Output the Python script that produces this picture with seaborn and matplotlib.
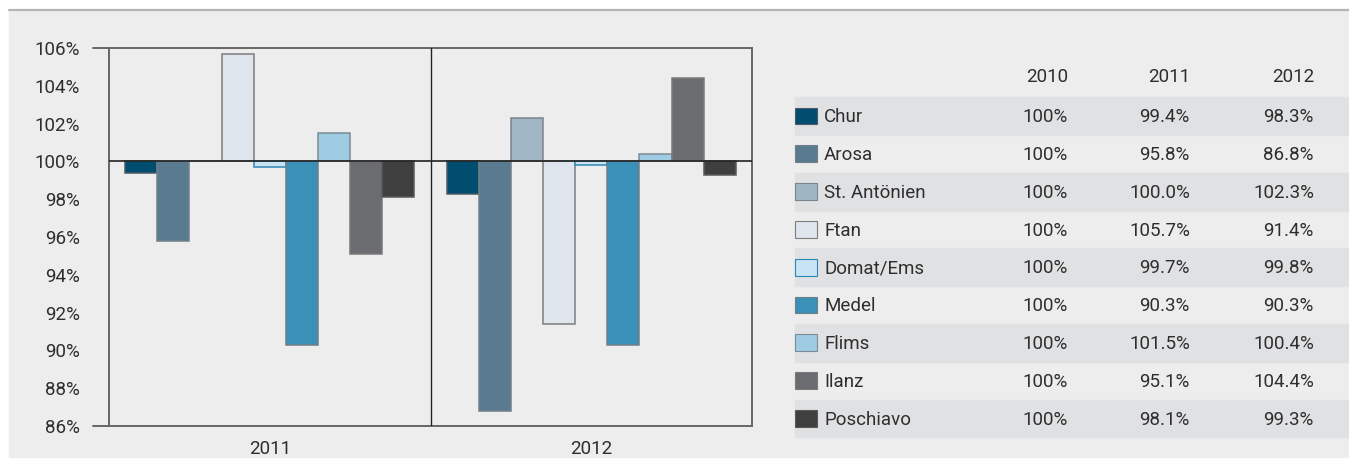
import pandas as pd
import matplotlib
matplotlib.use("Agg")
import matplotlib.pyplot as plt
from matplotlib.patches import Rectangle
from matplotlib.lines import Line2D
from matplotlib.ticker import FuncFormatter
import seaborn as sns

# data
towns = ["Chur", "Arosa", "St. Antönien", "Ftan", "Domat/Ems", "Medel", "Flims", "Ilanz", "Poschiavo"]
years = ["2010", "2011", "2012"]
v2010 = [100, 100, 100, 100, 100, 100, 100, 100, 100]
v2011 = [99.4, 95.8, 100.0, 105.7, 99.7, 90.3, 101.5, 95.1, 98.1]
v2012 = [98.3, 86.8, 102.3, 91.4, 99.8, 90.3, 100.4, 104.4, 99.3]
y_ticks = [86, 88, 90, 92, 94, 96, 98, 100, 102, 104, 106]

colors = ["#004d70", "#5a7b8f", "#a0b6c5", "#dfe5ec", "#c8e4f4", "#3a90b6", "#9fcbe3", "#6b6c70", "#3f3f3f"]
edges = ["#4a5a66", "#6f7f8a", "#7a848c", "#7d7d7d", "#2f86b5", "#6f7f88", "#7d8b94", "#7a7a7a", "#5a5a5a"]

bg = "#ededed"
base = 100

# long table of changes against 2010
rows = []
for t, a, b in zip(towns, v2011, v2012):
    rows.append({"year": "2011", "town": t, "change": a - base})
    rows.append({"year": "2012", "town": t, "change": b - base})
df = pd.DataFrame(rows)

sns.set_style("white")
plt.rcParams["font.family"] = ["Roboto", "DejaVu Sans"]

W, H = 1349, 459
fig = plt.figure(figsize=(W / 100, H / 100), dpi=100)
fig.patch.set_facecolor("white")

# grey panel and top rule
fig.patches.append(Rectangle((9 / W, 1 - 457 / H), 1 - 9 / W, (457 - 11) / H,
                             transform=fig.transFigure, color=bg, zorder=-10))
fig.lines.append(Line2D([9 / W, 1], [1 - 10 / H, 1 - 10 / H], transform=fig.transFigure,
                        color="#b5b5b5", lw=1.6, zorder=-9))

# bar chart
ax = fig.add_axes([109 / W, 1 - 426 / H, (752 - 109) / W, (426 - 48) / H])
ax.set_facecolor(bg)
sns.barplot(data=df, x="year", y="change", hue="town", hue_order=towns,
            palette=colors, saturation=1, width=0.9, linewidth=1.1, legend=False, ax=ax)
for i, p in enumerate(ax.patches):
    p.set_edgecolor(edges[i // 2])

ax.set_ylim(y_ticks[0] - base, y_ticks[-1] - base)
ax.set_xlim(-0.5, 1.5)
ax.set_yticks([v - base for v in y_ticks])
ax.yaxis.set_major_formatter(FuncFormatter(lambda v, _: f"{v + base:.0f}%"))
ax.axhline(0, color="#222222", lw=1.2, zorder=5)
ax.axvline(0.5, color="#222222", lw=1.0, zorder=5)
for s in ax.spines.values():
    s.set_color("#666666")
    s.set_linewidth(1.4)
# top and bottom lines reach out to the labels
tr = ax.get_yaxis_transform()
for yv in (y_ticks[0] - base, y_ticks[-1] - base):
    ax.plot([-16 / 643, 0], [yv, yv], transform=tr, color="#666666", lw=1.4, clip_on=False)
ax.tick_params(axis="both", length=0, labelsize=13.5, colors="#2e2e2e")
ax.tick_params(axis="y", pad=21)
ax.tick_params(axis="x", pad=10)
ax.set_xlabel("")
ax.set_ylabel("")
ax.grid(False)

# table with legend swatches
tx = fig.add_axes([785 / W, 1 - 437.3 / H, (W - 785) / W, (437.3 - 59.3) / H])
tx.set_xlim(785, W)
tx.set_ylim(8.5, -1.5)
tx.axis("off")
col_x = [1068, 1190, 1314]
fs = 13.5
tc = "#2e2e2e"
for x, yr in zip(col_x, years):
    tx.text(x, -1.03, yr, ha="right", va="center", fontsize=fs, color=tc)
for i, t in enumerate(towns):
    if i % 2 == 0:
        tx.add_patch(Rectangle((795, i - 0.5), W - 795, 1.0, color="#e0e1e3", zorder=0, clip_on=False))
    tx.add_patch(Rectangle((795, i - 0.22), 22, 0.44, facecolor=colors[i], edgecolor=edges[i], lw=0.8))
    tx.text(824, i + 0.03, t, ha="left", va="center", fontsize=fs, color=tc)
    tx.text(col_x[0], i + 0.03, f"{v2010[i]}%", ha="right", va="center", fontsize=fs, color=tc)
    tx.text(col_x[1], i + 0.03, f"{v2011[i]:.1f}%", ha="right", va="center", fontsize=fs, color=tc)
    tx.text(col_x[2], i + 0.03, f"{v2012[i]:.1f}%", ha="right", va="center", fontsize=fs, color=tc)

fig.savefig("out.png", dpi=100, facecolor=fig.get_facecolor())
